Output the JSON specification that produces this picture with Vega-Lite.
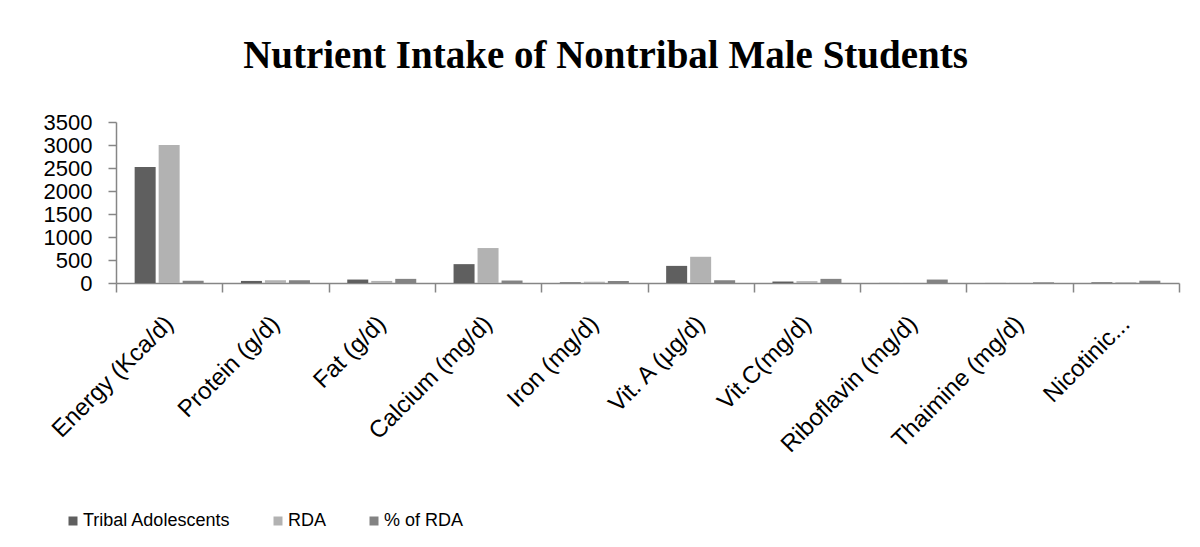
{
  "$schema": "https://vega.github.io/schema/vega-lite/v6.json",
  "autosize": {"type": "none"},
  "padding": {"left": 116, "top": 122, "right": 21, "bottom": 264},
  "width": 1063,
  "height": 161,
  "background": "white",
  "title": {
    "text": "Nutrient Intake of Nontribal Male Students",
    "font": "Liberation Serif",
    "fontSize": 39,
    "fontWeight": "bold",
    "color": "#000000",
    "anchor": "middle",
    "frame": "group",
    "dx": -42,
    "offset": 35
  },
  "data": {
    "values": [
      {"nutrient": "Energy (Kca/d)", "series": "Tribal Adolescents", "value": 2520},
      {"nutrient": "Energy (Kca/d)", "series": "RDA", "value": 3000},
      {"nutrient": "Energy (Kca/d)", "series": "% of RDA", "value": 50},
      {"nutrient": "Protein (g/d)", "series": "Tribal Adolescents", "value": 45},
      {"nutrient": "Protein (g/d)", "series": "RDA", "value": 60},
      {"nutrient": "Protein (g/d)", "series": "% of RDA", "value": 60},
      {"nutrient": "Fat (g/d)", "series": "Tribal Adolescents", "value": 75},
      {"nutrient": "Fat (g/d)", "series": "RDA", "value": 45},
      {"nutrient": "Fat (g/d)", "series": "% of RDA", "value": 90},
      {"nutrient": "Calcium (mg/d)", "series": "Tribal Adolescents", "value": 410},
      {"nutrient": "Calcium (mg/d)", "series": "RDA", "value": 760},
      {"nutrient": "Calcium (mg/d)", "series": "% of RDA", "value": 54},
      {"nutrient": "Iron (mg/d)", "series": "Tribal Adolescents", "value": 14},
      {"nutrient": "Iron (mg/d)", "series": "RDA", "value": 28},
      {"nutrient": "Iron (mg/d)", "series": "% of RDA", "value": 45},
      {"nutrient": "Vit. A (µg/d)", "series": "Tribal Adolescents", "value": 372},
      {"nutrient": "Vit. A (µg/d)", "series": "RDA", "value": 570},
      {"nutrient": "Vit. A (µg/d)", "series": "% of RDA", "value": 60},
      {"nutrient": "Vit.C(mg/d)", "series": "Tribal Adolescents", "value": 32},
      {"nutrient": "Vit.C(mg/d)", "series": "RDA", "value": 40},
      {"nutrient": "Vit.C(mg/d)", "series": "% of RDA", "value": 90},
      {"nutrient": "Riboflavin (mg/d)", "series": "Tribal Adolescents", "value": 1.2},
      {"nutrient": "Riboflavin (mg/d)", "series": "RDA", "value": 1.6},
      {"nutrient": "Riboflavin (mg/d)", "series": "% of RDA", "value": 75},
      {"nutrient": "Thaimine (mg/d)", "series": "Tribal Adolescents", "value": 1.2},
      {"nutrient": "Thaimine (mg/d)", "series": "RDA", "value": 1.5},
      {"nutrient": "Thaimine (mg/d)", "series": "% of RDA", "value": 15},
      {"nutrient": "Nicotinic...", "series": "Tribal Adolescents", "value": 14},
      {"nutrient": "Nicotinic...", "series": "RDA", "value": 18},
      {"nutrient": "Nicotinic...", "series": "% of RDA", "value": 50}
    ]
  },
  "mark": {"type": "bar"},
  "encoding": {
    "x": {
      "field": "nutrient",
      "type": "nominal",
      "sort": null,
      "scale": {"paddingInner": 0, "paddingOuter": 0},
      "axis": {
        "title": null,
        "labelAngle": -45,
        "labelAlign": "right",
        "labelBaseline": "middle",
        "labelFont": "Liberation Sans",
        "labelFontSize": 24,
        "labelColor": "#000000",
        "labelPadding": 28,
        "labelLimit": 300,
        "tickBand": "extent",
        "tickSize": 9,
        "tickColor": "#868686",
        "tickWidth": 1.5,
        "domainColor": "#868686",
        "domainWidth": 1.5
      }
    },
    "xOffset": {
      "field": "series",
      "type": "nominal",
      "sort": ["Tribal Adolescents", "RDA", "% of RDA"],
      "scale": {"paddingInner": 0.125, "paddingOuter": 0.777}
    },
    "y": {
      "field": "value",
      "type": "quantitative",
      "scale": {"domain": [0, 3500], "nice": false},
      "axis": {
        "title": null,
        "values": [0, 500, 1000, 1500, 2000, 2500, 3000, 3500],
        "format": "d",
        "grid": false,
        "labelFont": "Liberation Sans",
        "labelFontSize": 22,
        "labelColor": "#000000",
        "labelPadding": 16,
        "labelOverlap": false,
        "labelFlush": false,
        "tickSize": 8,
        "tickColor": "#868686",
        "tickWidth": 1.5,
        "domainColor": "#868686",
        "domainWidth": 1.5
      }
    },
    "color": {
      "field": "series",
      "type": "nominal",
      "sort": ["Tribal Adolescents", "RDA", "% of RDA"],
      "scale": {
        "domain": ["Tribal Adolescents", "RDA", "% of RDA"],
        "range": ["#5f5f5f", "#b2b2b2", "#838383"]
      },
      "legend": {
        "title": null,
        "orient": "none",
        "legendX": -52,
        "legendY": 390,
        "direction": "horizontal",
        "symbolType": "square",
        "symbolSize": 81,
        "symbolStrokeWidth": 0,
        "labelFont": "Liberation Sans",
        "labelFontSize": 18,
        "labelColor": "#000000",
        "labelOffset": 1,
        "columnPadding": 38,
        "labelLimit": 300
      }
    }
  },
  "config": {
    "view": {"stroke": null}
  }
}
